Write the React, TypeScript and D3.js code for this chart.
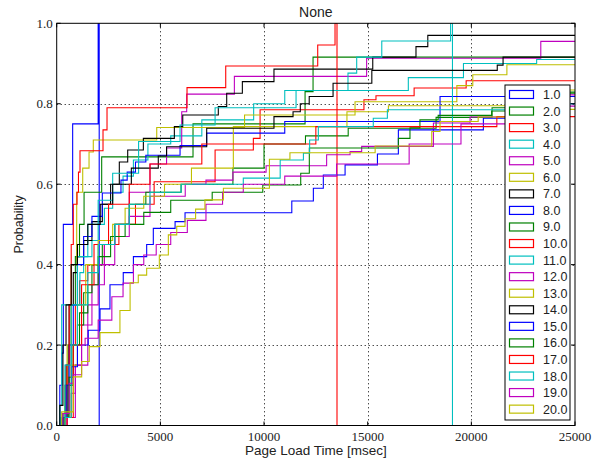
import React from "react";
import * as d3 from "d3";

// legend labels and colour cycle (matplotlib classic b g r c m y k)
const labels = ["1.0", "2.0", "3.0", "4.0", "5.0", "6.0", "7.0", "8.0", "9.0", "10.0",
  "11.0", "12.0", "13.0", "14.0", "15.0", "16.0", "17.0", "18.0", "19.0", "20.0"];
const colorCycle = ["#0000ff", "#008000", "#ff0000", "#00bfbf", "#bf00bf", "#bfbf00", "#000000"];

const xTicks = [0, 5000, 10000, 15000, 20000, 25000];
const yTicks = [0, 0.2, 0.4, 0.6, 0.8, 1.0];

// cumulative steps: [msec, probability]
const s01 = [[150, 0.1], [250, 0.18], [320, 0.5], [770, 0.75], [2000, 1.0]];
const s02 = [[250, 0.02], [400, 0.1], [550, 0.2], [700, 0.3], [900, 0.42], [1100, 0.5], [1320, 0.58], [2170, 0.668], [6575, 0.75], [11980, 0.83], [12365, 0.916]];
const s03 = [[400, 0.02], [550, 0.12], [700, 0.2], [900, 0.3], [1100, 0.36], [1500, 0.4], [2300, 0.45], [3000, 0.5], [3800, 0.55], [4700, 0.606], [7640, 0.685], [9485, 0.714], [9810, 0.785], [14820, 0.81], [15400, 0.82], [17240, 0.839], [19750, 0.857]];
const s04 = [[150, 0.05], [240, 0.3], [1120, 0.38], [1300, 0.42], [1700, 0.46], [2000, 0.5], [2300, 0.54], [2700, 0.58], [3200, 0.62], [3700, 0.66], [4400, 0.7], [5500, 0.72], [7000, 0.76], [9500, 0.8], [11000, 0.833], [16960, 0.865], [19620, 0.9], [23150, 0.91]];
const s05 = [[500, 0.02], [700, 0.08], [900, 0.15], [1200, 0.25], [1700, 0.35], [2300, 0.45], [2800, 0.5], [3500, 0.58], [4500, 0.65], [5300, 0.69], [6030, 0.78], [6270, 0.824], [8570, 0.868], [14950, 0.913], [23350, 0.955]];
const s06 = [[300, 0.02], [400, 0.1], [500, 0.2], [700, 0.4], [965, 0.58], [1255, 0.64], [1560, 0.68], [1765, 0.71], [4825, 0.741], [9060, 0.772], [14390, 0.805], [19300, 0.845], [20070, 0.872], [21715, 0.897]];
const s07 = [[300, 0.03], [450, 0.15], [600, 0.3], [800, 0.38], [1000, 0.42], [1300, 0.46], [1700, 0.507], [2200, 0.55], [2600, 0.6], [3020, 0.655], [3425, 0.685], [4180, 0.714], [5675, 0.743], [6080, 0.772], [7795, 0.793], [8200, 0.826], [8955, 0.855], [10480, 0.886], [15245, 0.916], [17330, 0.942], [17900, 0.97]];
const s08 = [[300, 0.02], [450, 0.1], [600, 0.2], [800, 0.3], [1000, 0.4], [1300, 0.47], [1700, 0.52], [2200, 0.578], [3100, 0.61], [3400, 0.63], [3800, 0.655], [4300, 0.672], [5950, 0.696], [7235, 0.727], [11000, 0.756], [18490, 0.818]];
const s09 = [[400, 0.02], [600, 0.12], [800, 0.2], [1000, 0.25], [1300, 0.33], [1700, 0.4], [2200, 0.45], [2800, 0.5], [3500, 0.55], [4300, 0.58], [6000, 0.6], [8500, 0.64], [10000, 0.7], [12000, 0.72], [14060, 0.739], [18300, 0.766], [21000, 0.79], [23500, 0.829]];
const s10 = [[350, 0.02], [500, 0.15], [600, 0.3], [700, 0.45], [800, 0.55], [980, 0.58], [1050, 0.63], [1124, 0.683], [2234, 0.735], [2427, 0.79], [6286, 0.84], [8153, 0.894], [12590, 0.946], [13425, 1.0]];
const s11 = [[200, 0.02], [400, 0.15], [700, 0.3], [1000, 0.42], [1500, 0.5], [2000, 0.56], [2700, 0.627], [3950, 0.706], [5950, 0.747], [7640, 0.79], [11545, 0.833], [14050, 0.876], [14470, 0.916], [15680, 0.956], [19000, 1.0]];
const s12 = [[500, 0.02], [900, 0.15], [1500, 0.3], [2000, 0.4], [2800, 0.47], [3500, 0.52], [4500, 0.57], [6200, 0.6], [7200, 0.61], [8500, 0.63], [10100, 0.646], [13020, 0.673], [14150, 0.681], [14710, 0.694], [18170, 0.752], [19940, 0.767], [23800, 0.794]];
const s13 = [[400, 0.02], [700, 0.15], [1000, 0.3], [1400, 0.4], [2000, 0.46], [2700, 0.5], [3300, 0.54], [4200, 0.57], [5200, 0.6], [6500, 0.64], [8520, 0.743], [14000, 0.78], [16000, 0.795], [24000, 0.834]];
const s14 = [[150, 0.05], [300, 0.2], [450, 0.3], [700, 0.4], [1000, 0.45], [1500, 0.5], [2100, 0.55], [2700, 0.6], [3600, 0.64], [4900, 0.67], [5300, 0.693], [7235, 0.739], [10480, 0.768], [11400, 0.78], [11750, 0.8], [12180, 0.818], [13330, 0.851], [15200, 0.883], [21250, 0.896], [21530, 0.916]];
const s15 = [[300, 0.02], [500, 0.1], [720, 0.146], [1000, 0.2], [1520, 0.237], [2090, 0.29], [2570, 0.35], [3210, 0.38], [3700, 0.42], [4340, 0.45], [4660, 0.49], [5710, 0.507], [6190, 0.529], [11340, 0.558], [12380, 0.59], [12860, 0.623], [13910, 0.648], [15470, 0.675], [16480, 0.735], [20580, 0.764], [24300, 0.8]];
const s16 = [[350, 0.02], [550, 0.1], [800, 0.2], [1100, 0.28], [1500, 0.35], [2000, 0.42], [2600, 0.47], [3300, 0.5], [4200, 0.53], [5500, 0.56], [7500, 0.58], [9940, 0.598], [11770, 0.627], [12185, 0.69], [16480, 0.714], [17040, 0.74], [17520, 0.76], [18400, 0.771], [20980, 0.782], [23500, 0.826]];
const s17 = [[500, 0.02], [800, 0.2], [1200, 0.35], [1800, 0.45], [2500, 0.55], [3500, 0.6], [4500, 0.65], [7000, 0.7], [12500, 0.743], [21230, 0.768]];
const s18 = [[400, 0.02], [700, 0.2], [1000, 0.3], [1500, 0.38], [2000, 0.45], [2800, 0.5], [3500, 0.55], [4500, 0.58], [6000, 0.6], [9000, 0.615], [10780, 0.66], [11900, 0.677], [12200, 0.71], [12620, 0.743], [15270, 0.764], [15950, 0.785], [24000, 0.8]];
const s19 = [[300, 0.03], [600, 0.105], [800, 0.126], [1200, 0.2], [1370, 0.217], [2000, 0.262], [2660, 0.32], [3200, 0.354], [3700, 0.4], [4200, 0.424], [4800, 0.45], [5500, 0.48], [6300, 0.51], [7200, 0.55], [8000, 0.58], [9000, 0.6], [11000, 0.62], [13500, 0.65], [17000, 0.7], [19500, 0.75], [22500, 0.8], [24400, 0.822]];
const s20 = [[240, 0.034], [800, 0.121], [1205, 0.159], [1570, 0.196], [2090, 0.231], [3050, 0.286], [3540, 0.355], [3935, 0.374], [4340, 0.391], [4950, 0.424], [5385, 0.474], [5790, 0.495], [6190, 0.514], [6700, 0.538], [7150, 0.561], [8040, 0.59], [10260, 0.662], [11250, 0.678], [15360, 0.695], [18090, 0.731], [18490, 0.756], [20330, 0.767], [24200, 0.786]];

// series whose largest sample sits inside the plot: the step outline falls back to 0 there
const lastEdges = [2050, null, null, null, null, null, null, null, null, 13520,
  19090, null, null, null, null, null, null, null, null, null];

const allSeries = [s01, s02, s03, s04, s05, s06, s07, s08, s09, s10,
  s11, s12, s13, s14, s15, s16, s17, s18, s19, s20];

export default function App() {
  const width = 601;
  const height = 461;
  const left = 56.7;
  const right = 575;
  const top = 23.3;
  const bottom = 425.5;

  const x = d3.scaleLinear().domain([0, 25000]).range([left, right]);
  const y = d3.scaleLinear().domain([0, 1]).range([bottom, top]);

  const line = d3.line<number[]>()
    .x(d => x(d[0]))
    .y(d => y(d[1]))
    .curve(d3.curveStepAfter);

  const paths = allSeries.map((s, i) => {
    const pts = [[s[0][0], 0], ...s];
    const edge = lastEdges[i];
    if (edge != null) pts.push([edge, 0]);
    else pts.push([30000, s[s.length - 1][1]]);
    return line(pts as number[][]);
  });

  // legend box
  const lgX = 505;
  const lgY = 85;
  const lgW = 65;
  const lgH = 335;
  const rowH = 16.56;

  return (
    <>
      <style>{`body{margin:0}`}</style>
      <svg width={width} height={height} style={{ display: "block", background: "#fff" }}>
        <defs>
          <clipPath id="plotClip">
            <rect x={left} y={top} width={right - left} height={bottom - top} />
          </clipPath>
        </defs>

        {/* grid */}
        <g stroke="#000" strokeWidth={1} strokeDasharray="1,3">
          {xTicks.slice(1, -1).map(t => (
            <line key={"gx" + t} x1={Math.round(x(t)) + 0.5} x2={Math.round(x(t)) + 0.5} y1={top} y2={bottom} />
          ))}
          {yTicks.slice(1, -1).map(t => (
            <line key={"gy" + t} y1={Math.round(y(t)) + 0.5} y2={Math.round(y(t)) + 0.5} x1={left} x2={right} />
          ))}
        </g>

        {/* curves */}
        <g clipPath="url(#plotClip)" fill="none" strokeWidth={1.1}>
          {paths.map((p, i) => (
            <path key={i} d={p || ""} stroke={colorCycle[i % colorCycle.length]} />
          ))}
        </g>

        {/* frame + ticks */}
        <rect x={left} y={top} width={right - left} height={bottom - top} fill="none" stroke="#000" strokeWidth={1} />
        <g stroke="#000" strokeWidth={1}>
          {xTicks.map(t => (
            <g key={"tx" + t}>
              <line x1={x(t)} x2={x(t)} y1={bottom} y2={bottom - 4} />
              <line x1={x(t)} x2={x(t)} y1={top} y2={top + 4} />
            </g>
          ))}
          {yTicks.map(t => (
            <g key={"ty" + t}>
              <line x1={left} x2={left + 4} y1={y(t)} y2={y(t)} />
              <line x1={right} x2={right - 4} y1={y(t)} y2={y(t)} />
            </g>
          ))}
        </g>

        {/* tick labels */}
        <g fontFamily="'Liberation Serif', serif" fontSize={13} fill="#222">
          {xTicks.map(t => (
            <text key={"lx" + t} x={x(t)} y={bottom + 15} textAnchor="middle">{t}</text>
          ))}
          {yTicks.map(t => (
            <text key={"ly" + t} x={left - 4} y={y(t) + 4.5} textAnchor="end">{t.toFixed(1)}</text>
          ))}
        </g>

        {/* titles */}
        <g fontFamily="'Liberation Sans', Arial, sans-serif" fill="#222">
          <text x={(left + right) / 2} y={17} textAnchor="middle" fontSize={14}>None</text>
          <text x={(left + right) / 2} y={455} textAnchor="middle" fontSize={13.5}>Page Load Time [msec]</text>
          <text transform={`translate(23,${(top + bottom) / 2}) rotate(-90)`} textAnchor="middle" fontSize={12.5}>Probability</text>
        </g>

        {/* legend */}
        <rect x={lgX} y={lgY} width={lgW} height={lgH} fill="#fff" stroke="#000" strokeWidth={1} />
        <g fontFamily="'Liberation Sans', Arial, sans-serif" fontSize={12.5} fill="#222">
          {labels.map((lab, i) => {
            const cy = lgY + 9.5 + i * rowH;
            return (
              <g key={lab}>
                <rect x={lgX + 4.5} y={cy - 4} width={24} height={8} fill="none"
                  stroke={colorCycle[i % colorCycle.length]} strokeWidth={1.2} />
                <text x={lgX + 38} y={cy + 4.5}>{lab}</text>
              </g>
            );
          })}
        </g>
      </svg>
    </>
  );
}
